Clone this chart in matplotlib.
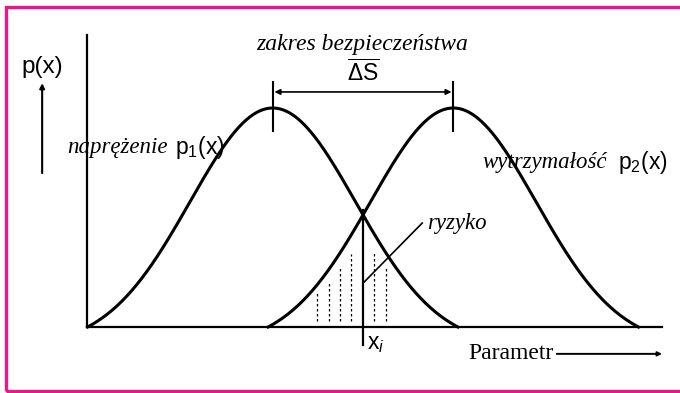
import numpy as np
import matplotlib
matplotlib.use("Agg")
import matplotlib.pyplot as plt
from matplotlib.patches import Rectangle

plt.rcParams['mathtext.fontset'] = 'custom'
plt.rcParams['mathtext.rm'] = 'Liberation Sans'
plt.rcParams['mathtext.it'] = 'Liberation Sans:italic'

# parametry rozkladow (naprezenie, wytrzymalosc)
means = [3.23, 6.37]
sigma = 1.44
half_width = 3.22
peak = 0.75
x_i = 4.80
hatch_x = [4.0, 4.21, 4.40, 4.59, 4.99, 5.2]

serif = 'Liberation Serif'
sans = 'Liberation Sans'
pink = '#E8188C'
fs = 16.5


def p(x, mu):
    g = np.exp(-(x - mu)**2 / (2*sigma**2))
    g0 = np.exp(-half_width**2 / (2*sigma**2))
    y = peak*(g - g0)/(1 - g0)
    y[np.abs(x - mu) > half_width] = 0
    return y


fig = plt.figure(figsize=(6.8, 3.93), dpi=100)
ax = fig.add_axes([87/680, 66/393, 575/680, 292/393])
ax.set_xlim(0, 10)
ax.set_ylim(0, 1)
ax.axis('off')

# osie
ax.plot([0, 0], [0, 1], color='k', lw=1.6, clip_on=False)
ax.plot([0, 10], [0, 0], color='k', lw=1.6, clip_on=False)

for mu in means:
    x = np.linspace(mu - half_width, mu + half_width, 300)
    ax.plot(x, p(x, mu), color='k', lw=2.2, clip_on=False)
    ax.plot([mu, mu], [0.671, 0.839], color='k', lw=1.5)

# obszar ryzyka
for hx in hatch_x:
    top = min(p(np.array([hx]), means[0])[0], p(np.array([hx]), means[1])[0])
    ax.plot([hx, hx], [0.02, top*0.8], color='k', lw=0.9, ls=(0, (2, 2)))

ax.plot([x_i, x_i], [0.40, -0.062], color='k', lw=1.6, clip_on=False)
ax.plot([4.82, 5.83], [0.154, 0.356], color='k', lw=1.2)

# zakres bezpieczenstwa
ax.annotate('', xy=(means[0] + 0.03, 0.805), xytext=(means[1] - 0.03, 0.805),
            arrowprops=dict(arrowstyle='<|-|>', color='k', lw=1.2,
                            mutation_scale=8, shrinkA=0, shrinkB=0))
ax.text(4.78, 0.969, 'zakres bezpieczeństwa', family=serif, style='italic',
        fontsize=17, ha='center', va='center')
ax.text(4.80, 0.868, r'$\overline{\mathrm{\Delta S}}$', fontsize=fs,
        ha='center', va='center')

# p(x)
ax.text(-0.78, 0.89, 'p(x)', family=sans, fontsize=17.5, ha='center',
        va='center', clip_on=False)
ax.annotate('', xy=(-0.78, 0.835), xytext=(-0.78, 0.527),
            arrowprops=dict(arrowstyle='-|>', color='k', lw=1.5,
                            mutation_scale=7, shrinkA=0, shrinkB=0),
            annotation_clip=False)

ax.text(-0.35, 0.616, 'naprężenie', family=serif, style='italic',
        fontsize=fs, ha='left', va='center')
ax.text(1.53, 0.616, r'$\mathrm{p_1(x)}$', fontsize=fs, ha='left',
        va='center')
ax.text(6.87, 0.565, 'wytrzymałość', family=serif, style='italic',
        fontsize=fs, ha='left', va='center')
ax.text(9.23, 0.565, r'$\mathrm{p_2(x)}$', fontsize=fs, ha='left',
        va='center')
ax.text(5.91, 0.356, 'ryzyko', family=serif, style='italic', fontsize=fs,
        ha='left', va='center')
ax.text(4.87, -0.055, r'$\mathrm{x}_i$', fontsize=fs, ha='left',
        va='center', clip_on=False)

ax.text(6.63, -0.092, 'Parametr', family=serif, fontsize=17, ha='left',
        va='center', clip_on=False)
ax.annotate('', xy=(10.0, -0.092), xytext=(8.17, -0.092),
            arrowprops=dict(arrowstyle='-|>', color='k', lw=1.4,
                            mutation_scale=6, shrinkA=0, shrinkB=0),
            annotation_clip=False)

fig.patches.append(Rectangle((5.5/680, 2/393), 1.0, 384.5/393,
                             transform=fig.transFigure, fill=False,
                             edgecolor=pink, lw=2.4))

fig.savefig('out.png', dpi=100)
